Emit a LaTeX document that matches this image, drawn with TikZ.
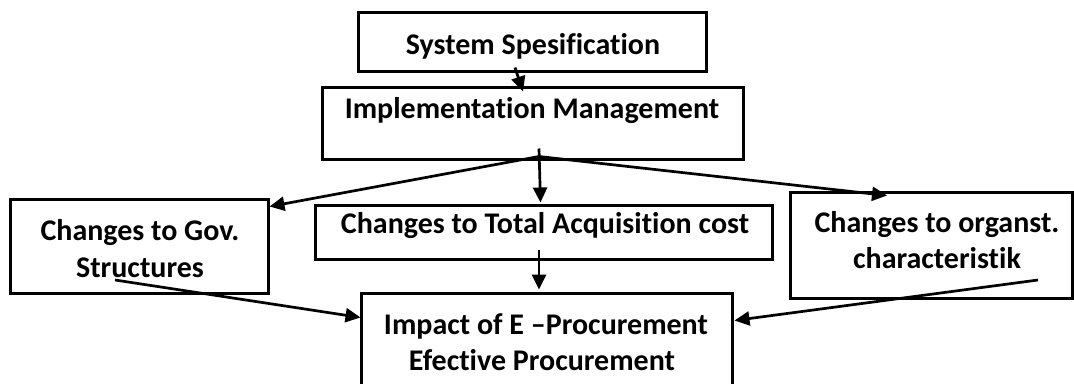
\documentclass[tikz,border=0pt]{standalone}
\usepackage{fontspec}
\setmainfont{Carlito}[Ligatures={TeX,NoCommon}]
\usetikzlibrary{arrows.meta,calc}
\begin{document}
\begin{tikzpicture}[x=1pt,y=-1pt,
  box/.style={draw,line width=3pt,inner sep=0pt},
  lbl/.style={font=\bfseries\fontsize{30}{36}\selectfont,inner sep=0pt,anchor=base},
  arr/.style={line width=2.7pt,-{Triangle[length=15pt,width=14pt]}}]
\clip (0,0) rectangle (1074,383);
\fill[white] (0,0) rectangle (1074,383);

% boxes
\node[box,minimum width=348pt,minimum height=59pt] (sys)  at (532,41.5)  {};
\node[box,minimum width=421pt,minimum height=72pt] (impl) at (532.5,123) {};
\node[box,minimum width=258pt,minimum height=94pt] (gov)  at (139,246)   {};
\node[box,minimum width=457pt,minimum height=54pt] (cost) at (543.5,232) {};
\node[box,minimum width=282pt,minimum height=106pt] (org) at (931,245)   {};
\node[box,minimum width=371pt,minimum height=110pt] (imp) at (546.5,348) {};

% box texts
\node[lbl] (sysT)  at (533,54)   {System Spesification};
\node[lbl] (implT) at (532,118)  {Implementation Management};
\node[lbl] (govT1) at (140,240)  {Changes to Gov.};
\node[lbl] (govT2) at (140,277)  {Structures};
\node[lbl] (costT) at (545,233)  {Changes to Total Acquisition cost};
\node[lbl] (orgT1) at (937,232)  {Changes to organst.};
\node[lbl] (orgT2) at (937,268)  {characteristik};
\node[lbl] (impT1) at (546,334)  {Impact of E –Procurement};
\node[lbl] (impT2) at (542,370)  {Efective Procurement};

% connectors
\draw[arr] ($(sys.south)+(-17,-5)$) -- ($(impl.north)+(-9.5,6)$);
\draw[arr] ($(impl.south)+(6.5,-4)$) -- ($(gov.north east)+(0,9)$);
\draw[arr] ($(impl.south)+(6.5,-12)$) -- ($(cost.north)+(-3,-1)$);
\draw[arr] ($(impl.south)+(6.5,-4)$) -- ($(org.north)+(-44,5)$);
\draw[arr] ($(cost.south)+(-4.5,-11)$) -- ($(imp.north)+(-7.5,-2)$);
\draw[arr] ($(gov.center)+(-24,34)$) -- ($(imp.north west)+(1,26)$);
\draw[arr] ($(org.center)+(107,35)$) -- ($(imp.north east)+(1,29)$);
\end{tikzpicture}
\end{document}
